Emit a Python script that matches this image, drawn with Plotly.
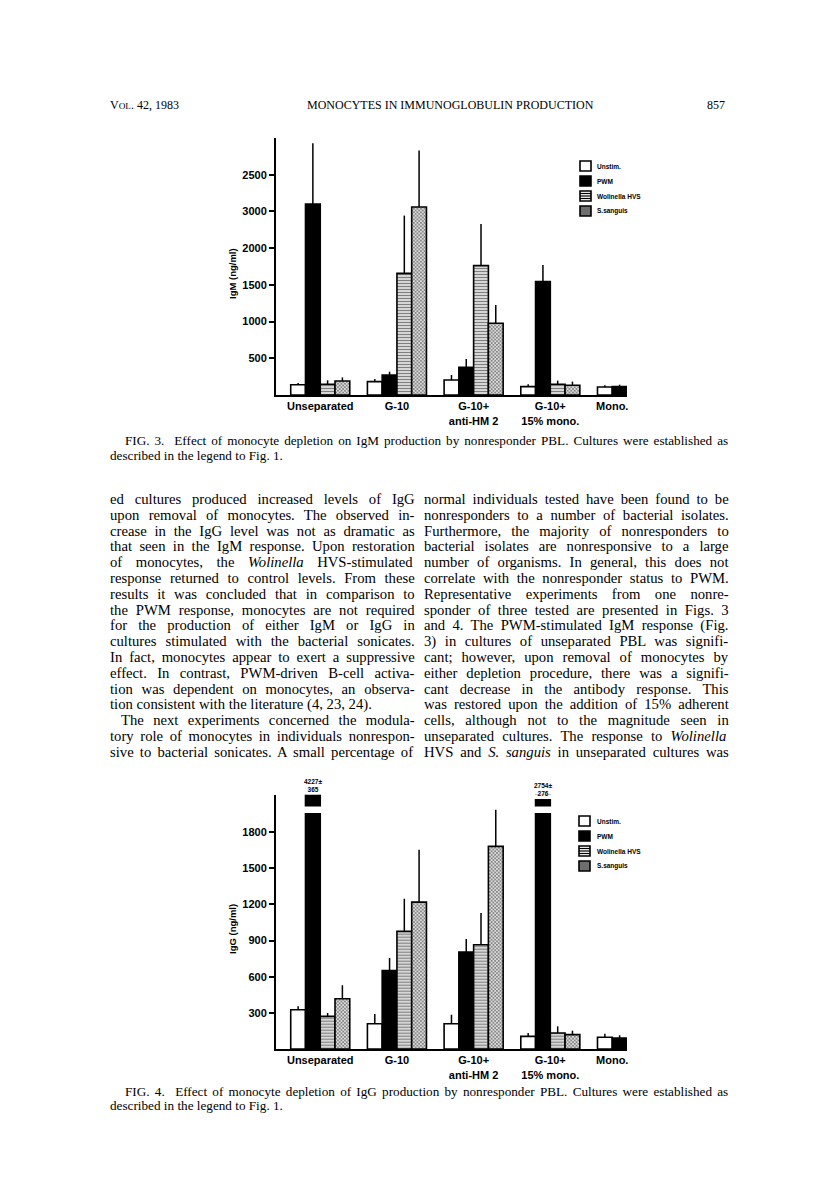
import re
import plotly.graph_objects as go

W, H = 816, 1188

# ---------------- data ----------------
groups = ["Unseparated", "G-10", "G-10+<br>anti-HM 2", "G-10+<br>15% mono.", "Mono."]
series_names = ["Unstim.", "PWM", "Wolinella HVS", "S.sanguis"]

# Fig. 3  IgM (ng/ml)
igm_unstim = [140, 182, 204, 114, 109]
igm_unstim_sd = [25, 36, 68, 32, 23]
igm_pwm = [2601, 272, 377, 1545, 114]
igm_pwm_sd = [827, 46, 113, 226, 27]
igm_wolinella = [146, 1657, 1762, 146, None]
igm_wolinella_sd = [54, 786, 567, 50, None]
igm_sanguis = [190, 2561, 977, 132, None]
igm_sanguis_sd = [50, 768, 249, 50, None]

# Fig. 4  IgG (ng/ml)
igg_unstim = [326, 210, 210, 105, 97]
igg_unstim_sd = [28, 80, 75, 28, 30]
igg_pwm = [4227, 650, 805, 2754, 91]
igg_pwm_sd = [365, 105, 107, 276, 23]
igg_wolinella = [271, 976, 865, 133, None]
igg_wolinella_sd = [28, 271, 263, 55, None]
igg_sanguis = [417, 1219, 1681, 119, None]
igg_sanguis_sd = [111, 434, 304, 33, None]

igm_tickvals = [500, 1000, 1500, 2000, 2500, 3000]
igm_ticktext = ["500", "1000", "1500", "2000", "3000", "2500"]
igg_tickvals = [300, 600, 900, 1200, 1500, 1800]
igg_ticktext = ["300", "600", "900", "1200", "1500", "1800"]

# ---------------- styles ----------------
SANS = "Liberation Sans"
SERIF = "Liberation Serif"
BARGAP = 0.23
NS = len(series_names)
BW = (1 - BARGAP) / NS
XR = [-0.577, 4.0]
IGM_RANGE = [0, 3500]
IGG_RANGE = [0, 2110]
BREAK_LO, BREAK_HI = 1958, 2013

def px(x):
    return x / W

def py(y):
    return 1 - y / H

marker_styles = [
    dict(color="white", line=dict(color="black", width=1.6)),
    dict(color="black", line=dict(color="black", width=1.6)),
    dict(color="white", line=dict(color="black", width=1.6),
         pattern=dict(shape="-", fgcolor="black", bgcolor="white", size=3, solidity=0.55)),
    dict(color="white", line=dict(color="black", width=1.6),
         pattern=dict(shape="x", fgcolor="black", bgcolor="white", size=2.5, solidity=0.6)),
]

fig = go.Figure()

def add_chart(vals, sds, xa, ya):
    for k, (v, e) in enumerate(zip(vals, sds)):
        fig.add_trace(go.Bar(
            x=list(range(len(groups))), y=v, name=series_names[k],
            marker=marker_styles[k], xaxis=xa, yaxis=ya, showlegend=False,
            error_y=dict(type="data", symmetric=False, array=e,
                         arrayminus=[0 if x is not None else None for x in e],
                         color="black", thickness=1.5, width=0),
        ))

igm_vals = [igm_unstim, igm_pwm, igm_wolinella, igm_sanguis]
igm_sds = [igm_unstim_sd, igm_pwm_sd, igm_wolinella_sd, igm_sanguis_sd]
igg_vals = [igg_unstim, igg_pwm, igg_wolinella, igg_sanguis]
igg_sds = [igg_unstim_sd, igg_pwm_sd, igg_wolinella_sd, igg_sanguis_sd]

add_chart(igm_vals, igm_sds, "x", "y")
add_chart(igg_vals, igg_sds, "x2", "y2")

def bar_center(g, s):
    return g - (1 - BARGAP) / 2 + (s + 0.5) * BW

def tick_positions(vals):
    pos = []
    for g in range(len(groups)):
        cs = [bar_center(g, s) for s in range(NS) if vals[s][g] is not None]
        pos.append(sum(cs) / len(cs) if len(cs) < NS else g)
    return pos

tickfont = dict(family=SANS, size=11, color="black", weight="bold")

def xaxis_def(ya, domain, vals):
    return dict(domain=domain, range=XR, anchor=ya, showline=True, linewidth=2,
                linecolor="black", ticks="", showgrid=False, zeroline=False,
                tickvals=tick_positions(vals), ticktext=groups, tickfont=tickfont,
                ticklabelstandoff=0, fixedrange=True)

def yaxis_def(xa, domain, rng, tv, tt):
    return dict(domain=domain, range=rng, anchor=xa, showline=True, linewidth=2,
                linecolor="black", ticks="outside", ticklen=5, tickwidth=1.5,
                tickcolor="black", showgrid=False, zeroline=False,
                tickvals=tv, ticktext=tt, tickfont=tickfont, fixedrange=True)

XDOM = [px(268), px(619)]
fig.update_layout(
    width=W, height=H, margin=dict(l=0, r=0, t=0, b=0),
    paper_bgcolor="white", plot_bgcolor="white",
    barmode="group", bargap=BARGAP, bargroupgap=0,
    xaxis=xaxis_def("y", XDOM, igm_vals),
    yaxis=yaxis_def("x", [py(387), py(130)], IGM_RANGE, igm_tickvals, igm_ticktext),
    xaxis2=xaxis_def("y2", XDOM, igg_vals),
    yaxis2=yaxis_def("x2", [py(1041), py(786.7)], IGG_RANGE, igg_tickvals, igg_ticktext),
)

shapes = []
annotations = []

# ---- broken bars (values beyond the IgG axis) ----
pwm_idx = 1
for g, (v, e) in enumerate(zip(igg_pwm, igg_pwm_sd)):
    if v is not None and v > IGG_RANGE[1]:
        c = bar_center(g, pwm_idx)
        x0, x1 = c - BW / 2 - 0.03, c + BW / 2 + 0.03
        shapes.append(dict(type="rect", xref="x2", yref="y2", x0=x0, x1=x1,
                           y0=BREAK_LO, y1=BREAK_HI, fillcolor="white",
                           line=dict(width=0), layer="above"))
        cap_top = IGG_RANGE[1] if g == 0 else 2074
        if cap_top < IGG_RANGE[1]:
            shapes.append(dict(type="rect", xref="x2", yref="y2", x0=x0, x1=x1,
                               y0=cap_top, y1=IGG_RANGE[1] + 50, fillcolor="white",
                               line=dict(width=0), layer="above"))
        annotations.append(dict(text=f"{v}±<br>{e}", xref="x2", yref="y2", x=c, y=cap_top,
                                xanchor="center", yanchor="bottom", showarrow=False,
                                font=dict(family=SANS, size=6.5, color="black", weight="bold"),
                                yshift=0))

# ---- axis titles ----
for label, yc in [("IgM (ng/ml)", 266), ("IgG (ng/ml)", 921)]:
    annotations.append(dict(text=label, xref="paper", yref="paper", x=px(224), y=py(yc),
                            xanchor="center", yanchor="middle", textangle=-90, showarrow=False,
                            font=dict(family=SANS, size=9.5, color="black", weight="bold")))

# ---- legends ----
def draw_legend(rows, bx0, bx1, tx):
    for k, yc in enumerate(rows):
        y0, y1 = py(yc + 5), py(yc - 5)
        fill = {0: "white", 1: "black", 2: "white", 3: "#6e6e6e"}[k]
        shapes.append(dict(type="rect", xref="paper", yref="paper", x0=px(bx0), x1=px(bx1),
                           y0=y0, y1=y1, fillcolor=fill, line=dict(color="black", width=1.6)))
        if k == 2:
            for dy in (-2.5, 0, 2.5):
                shapes.append(dict(type="line", xref="paper", yref="paper", x0=px(bx0),
                                   x1=px(bx1), y0=py(yc + dy), y1=py(yc + dy),
                                   line=dict(color="black", width=1.2)))
        annotations.append(dict(text=series_names[k], xref="paper", yref="paper", x=px(tx),
                                y=py(yc), xanchor="left", yanchor="middle", showarrow=False,
                                font=dict(family=SANS, size=6.5, color="black", weight="bold")))

draw_legend([158, 173, 188, 203], 572, 583, 587)
draw_legend([813, 828, 843, 858], 571, 582, 587)

# ---- page text ----
TNR = {' ': 250, '!': 333, '"': 408, '%': 833, '&': 778, "'": 333, '(': 333, ')': 333,
       '+': 564, ',': 250, '-': 333, '.': 250, '/': 278, ':': 278, ';': 278, '?': 444,
       '±': 564}
for ch in "0123456789":
    TNR[ch] = 500
TNR.update(dict(zip("ABCDEFGHIJKLMNOPQRSTUVWXYZ",
                    [722, 667, 667, 722, 611, 556, 722, 722, 333, 389, 722, 611, 889, 722,
                     722, 556, 722, 667, 556, 611, 722, 722, 944, 722, 722, 611])))
TNR.update(dict(zip("abcdefghijklmnopqrstuvwxyz",
                    [444, 500, 444, 500, 444, 333, 500, 500, 278, 278, 500, 278, 778, 500,
                     500, 500, 500, 333, 389, 278, 500, 500, 722, 500, 500, 444])))

def plain(s):
    return re.sub(r"<[^>]+>", "", s)

def text_line(s, x, y, size, width=None, family=SERIF):
    t = s
    if width is not None:
        p = plain(s)
        nat = sum(TNR.get(c, 500) for c in p) * size / 1000
        n = p.count(" ")
        if n:
            ws = (width - nat) / n
            t = f"<span style='word-spacing:{ws:.2f}px'>{s}</span>"
    annotations.append(dict(text=t, xref="paper", yref="paper", x=px(x), y=py(y),
                            xanchor="left", yanchor="middle", showarrow=False,
                            font=dict(family=family, size=size, color="black")))

# header
text_line("V<span style='font-size:9.2px'>OL</span>. 42, 1983", 100, 97, 12)
text_line("MONOCYTES IN IMMUNOGLOBULIN PRODUCTION", 297, 97, 12)
annotations.append(dict(text="857", xref="paper", yref="paper", x=px(719), y=py(97),
                        xanchor="right", yanchor="middle", showarrow=False,
                        font=dict(family=SERIF, size=12, color="black")))

TEXT_L, TEXT_R = 100, 719
COL_W = 305
COL_L, COL_R = TEXT_L, TEXT_R - COL_W
CAP = 13.2

fig3_caption = ["FIG. 3.  Effect of monocyte depletion on IgM production by nonresponder PBL. Cultures were established as",
                "described in the legend to Fig. 1."]
fig4_caption = ["FIG. 4.  Effect of monocyte depletion of IgG production by nonresponder PBL. Cultures were established as",
                "described in the legend to Fig. 1."]

text_line(fig3_caption[0], TEXT_L + 15, 433, CAP, width=TEXT_R - TEXT_L - 15)
text_line(fig3_caption[1], TEXT_L, 447, CAP)
text_line(fig4_caption[0], TEXT_L + 15, 1083, CAP, width=TEXT_R - TEXT_L - 15)
text_line(fig4_caption[1], TEXT_L, 1097, CAP)

left_col = [
    "ed cultures produced increased levels of IgG",
    "upon removal of monocytes. The observed in-",
    "crease in the IgG level was not as dramatic as",
    "that seen in the IgM response. Upon restoration",
    "of monocytes, the <i>Wolinella</i> HVS-stimulated",
    "response returned to control levels. From these",
    "results it was concluded that in comparison to",
    "the PWM response, monocytes are not required",
    "for the production of either IgM or IgG in",
    "cultures stimulated with the bacterial sonicates.",
    "In fact, monocytes appear to exert a suppressive",
    "effect. In contrast, PWM-driven B-cell activa-",
    "tion was dependent on monocytes, an observa-",
    "tion consistent with the literature (4, 23, 24).",
    "The next experiments concerned the modula-",
    "tory role of monocytes in individuals nonrespon-",
    "sive to bacterial sonicates. A small percentage of",
]
right_col = [
    "normal individuals tested have been found to be",
    "nonresponders to a number of bacterial isolates.",
    "Furthermore, the majority of nonresponders to",
    "bacterial isolates are nonresponsive to a large",
    "number of organisms. In general, this does not",
    "correlate with the nonresponder status to PWM.",
    "Representative experiments from one nonre-",
    "sponder of three tested are presented in Figs. 3",
    "and 4. The PWM-stimulated IgM response (Fig.",
    "3) in cultures of unseparated PBL was signifi-",
    "cant; however, upon removal of monocytes by",
    "either depletion procedure, there was a signifi-",
    "cant decrease in the antibody response. This",
    "was restored upon the addition of 15% adherent",
    "cells, although not to the magnitude seen in",
    "unseparated cultures. The response to <i>Wolinella</i>",
    "HVS and <i>S. sanguis</i> in unseparated cultures was",
]
BODY = 14.7
Y0, DY = 491, 15.8
for i, s in enumerate(left_col):
    if i == 13:
        text_line(s, COL_L, Y0 + i * DY, BODY)
    elif i == 14:
        text_line(s, COL_L + 11, Y0 + i * DY, BODY, width=COL_W - 11)
    else:
        text_line(s, COL_L, Y0 + i * DY, BODY, width=COL_W)
for i, s in enumerate(right_col):
    text_line(s, COL_R, Y0 + i * DY, BODY, width=COL_W)

fig.update_layout(shapes=shapes, annotations=annotations)
fig.write_html("out.html")
